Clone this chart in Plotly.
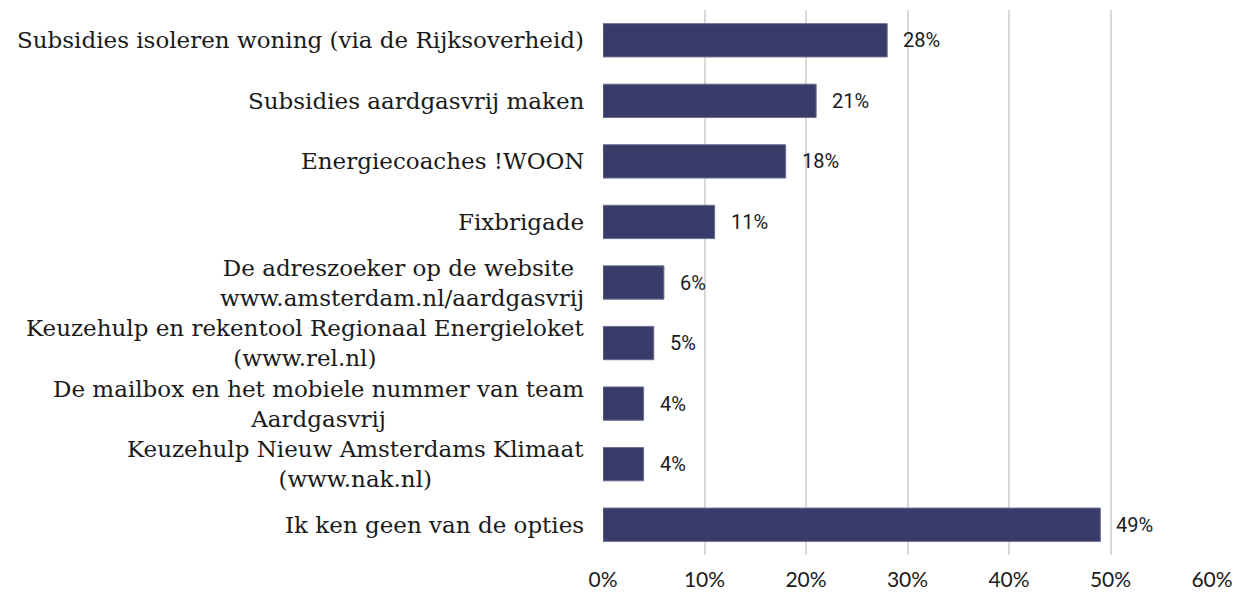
import plotly.graph_objects as go

categories = [
    "Subsidies isoleren woning (via de Rijksoverheid)",
    "Subsidies aardgasvrij maken",
    "Energiecoaches !WOON",
    "Fixbrigade",
    "De adreszoeker op de website <br>www.amsterdam.nl/aardgasvrij",
    "Keuzehulp en rekentool Regionaal Energieloket<br>(www.rel.nl)",
    "De mailbox en het mobiele nummer van team<br>Aardgasvrij",
    "Keuzehulp Nieuw Amsterdams Klimaat<br>(www.nak.nl)",
    "Ik ken geen van de opties",
]
values = [28, 21, 18, 11, 6, 5, 4, 4, 49]
tick_vals = [0, 10, 20, 30, 40, 50, 60]
tick_text = ["0%", "10%", "20%", "30%", "40%", "50%", "60%"]

bar_color = "#393c68"

fig = go.Figure()
fig.add_trace(go.Bar(
    x=values,
    y=categories,
    orientation="h",
    marker=dict(color=bar_color, line=dict(color="#6a6d92", width=1)),
    width=0.55,
    hoverinfo="x+y",
))

annotations = []
for c, v in zip(categories, values):
    annotations.append(dict(
        x=v, y=c, xref="x", yref="y", text=f"{v}%",
        xanchor="left", yanchor="middle", xshift=14, showarrow=False,
        font=dict(family="Roboto", size=20, color="#1a1a1a"),
    ))
    annotations.append(dict(
        x=0, y=c, xref="paper", yref="y", text=c,
        xanchor="right", yanchor="middle", xshift=-17, showarrow=False,
        align="center",
        font=dict(family="DejaVu Serif", size=23, color="#1a1a1a"),
    ))

fig.update_layout(
    width=1254, height=601,
    margin=dict(l=595, r=50, t=2, b=54),
    paper_bgcolor="white", plot_bgcolor="white",
    showlegend=False,
    annotations=annotations,
    xaxis=dict(
        range=[0, 60], tickvals=tick_vals, ticktext=tick_text,
        showgrid=True, gridcolor="#d9d9d9", gridwidth=2,
        zeroline=False, showline=False,
        tickfont=dict(family="Lato", size=21, color="#1a1a1a"),
        ticklabelstandoff=10,
    ),
    yaxis=dict(
        categoryorder="array", categoryarray=categories,
        autorange="reversed", showticklabels=False,
        showgrid=False, zeroline=False, showline=False,
    ),
)

fig.write_html("out.html")
